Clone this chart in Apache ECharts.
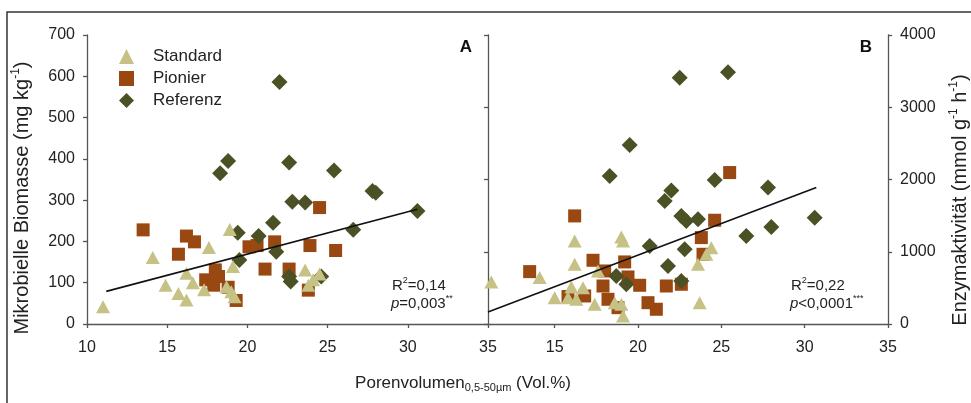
<!DOCTYPE html>
<html><head><meta charset="utf-8">
<script src="https://cdn.jsdelivr.net/npm/echarts@6/dist/echarts.min.js"></script>
<style>html,body{margin:0;padding:0;background:#fff}#c{width:971px;height:403px}</style>
</head><body><div id="c"></div>
<script>
// ---- data ----
const seriesNames = ['Standard', 'Pionier', 'Referenz'];
const xTicksRight = [15, 20, 25, 30, 35];

// Panel A: Mikrobielle Biomasse (mg kg-1)
const standardA = [[11.0,42],[14.1,161],[14.9,94],[15.7,74],[16.2,58],[16.2,123],[16.6,100],[17.3,83],[17.6,185],[18.7,90],[19.0,78],[19.2,66],[18.9,229],[19.1,139],[23.6,131],[23.8,94],[24.1,107],[24.5,121]];
const pionierA = [[13.5,228],[16.2,213],[16.7,199],[15.7,169],[24.5,282],[20.1,187],[20.6,190],[21.7,199],[23.9,190],[25.5,178],[21.1,133],[22.6,133],[18.0,131],[18.2,115],[17.4,107],[17.9,94],[18.8,89],[19.3,57],[23.8,82]];
const referenzA = [[22.0,586],[18.8,395],[18.3,365],[22.6,391],[25.4,372],[27.8,322],[28.0,318],[22.8,296],[23.6,294],[30.6,274],[26.6,228],[21.6,245],[19.4,221],[20.7,213],[21.8,175],[19.5,155],[22.6,115],[22.7,103],[24.6,115]];
const regressionA = [[11.2,79],[30.6,278]];

// Panel B: Enzymaktivität (mmol g-1 h-1)
const standardB = [[11.2,582],[14.1,642],[16.2,1150],[16.2,827],[19.0,1205],[19.1,1150],[17.6,734],[15.0,365],[16.0,512],[16.7,503],[15.8,365],[16.3,342],[17.4,272],[18.6,295],[19.0,272],[19.1,111],[23.7,295],[23.6,827],[24.1,965],[24.4,1057]];
const pionierB = [[25.5,2096],[16.2,1496],[24.6,1436],[23.8,1196],[23.9,965],[13.5,725],[17.3,882],[19.2,859],[18.0,734],[19.4,651],[20.1,536],[17.9,526],[21.7,526],[22.6,550],[18.2,342],[16.8,388],[15.8,380],[18.8,226],[20.6,295],[21.1,204]];
const referenzB = [[22.5,3407],[25.4,3486],[19.5,2479],[18.3,2050],[24.6,1994],[27.8,1890],[22.0,1848],[21.6,1704],[22.6,1496],[22.9,1427],[23.6,1450],[30.6,1472],[28.0,1343],[26.5,1219],[20.7,1080],[22.8,1034],[21.8,803],[18.7,665],[19.3,550],[22.6,595]];
const regressionB = [[11.0,165],[30.7,1890]];

// ---- style ----
const FF = '"Liberation Sans", Arial, sans-serif';
const cStd = '#c6c185', cPio = '#984810', cRef = '#4b5125';
const axisCol = '#555', txt = '#222';

const chart = echarts.init(document.getElementById('c'), null, {renderer: 'canvas'});

const plainNum = v => String(v);

function axisBase(extra) {
  return Object.assign({
    type: 'value',
    splitLine: {show: false},
    axisLine: {show: true, lineStyle: {color: axisCol, width: 1.3}},
    axisTick: {show: true, length: 4, lineStyle: {color: axisCol, width: 1.3}},
    axisLabel: {fontSize: 16, fontFamily: FF, color: txt, margin: 12, formatter: plainNum}
  }, extra);
}

function rich(size) {
  return {
    n: {fontSize: size, fontFamily: FF, fill: txt, color: txt, lineHeight: size + 4},
    i: {fontSize: size, fontFamily: FF, fontStyle: 'italic', fill: txt, color: txt, lineHeight: size + 4},
    s: {fontSize: Math.round(size * 0.62), fontFamily: FF, fill: txt, color: txt, verticalAlign: 'top', lineHeight: size + 4},
    b: {fontSize: Math.round(size * 0.62), fontFamily: FF, fill: txt, color: txt, verticalAlign: 'bottom', lineHeight: size + 4}
  };
}

function txtEl(x, y, text, size, extra) {
  return Object.assign({
    type: 'text', x: x, y: y, silent: true,
    style: Object.assign({text: text, rich: rich(size), fill: txt, font: size + 'px ' + FF, align: 'left', verticalAlign: 'middle'}, extra || {})
  });
}

const xLabelB = {fontSize: 16, fontFamily: FF, color: txt, margin: 16, formatter: plainNum};

const option = {
  animation: false,
  backgroundColor: '#fff',
  grid: [
    {left: 87, right: 483, top: 35, bottom: 79},
    {left: 488, right: 83, top: 35, bottom: 79}
  ],
  xAxis: [
    axisBase({gridIndex: 0, min: 10, max: 35, interval: 5, axisLabel: xLabelB}),
    axisBase({gridIndex: 1, min: 11, max: 35,
      axisLabel: Object.assign({customValues: xTicksRight}, xLabelB),
      axisTick: {show: true, length: 4, lineStyle: {color: axisCol, width: 1.3}, customValues: xTicksRight}})
  ],
  yAxis: [
    axisBase({gridIndex: 0, min: 0, max: 700, interval: 100}),
    axisBase({gridIndex: 0, position: 'right', min: 0, max: 4000, interval: 1000,
      axisLabel: {show: false}, axisTick: {show: true, inside: true, length: 4, lineStyle: {color: axisCol, width: 1.3}}}),
    axisBase({gridIndex: 1, position: 'right', min: 0, max: 4000, interval: 1000})
  ],
  legend: {
    orient: 'vertical', left: 114, top: 43,
    itemWidth: 15, itemHeight: 15, itemGap: 5,
    data: [
      {name: 'Standard', icon: 'triangle'},
      {name: 'Pionier', icon: 'rect'},
      {name: 'Referenz', icon: 'diamond'}
    ],
    textStyle: {fontSize: 17, fontFamily: FF, color: txt, padding: [0, 0, 0, 14], lineHeight: 16},
    selectedMode: false
  },
  series: [
    {name: 'Pionier', type: 'scatter', xAxisIndex: 0, yAxisIndex: 0, symbol: 'rect', symbolSize: 13, data: pionierA, itemStyle: {color: cPio, opacity: 1}},
    {name: 'Referenz', type: 'scatter', xAxisIndex: 0, yAxisIndex: 0, symbol: 'diamond', symbolSize: 16, data: referenzA, itemStyle: {color: cRef, opacity: 1}},
    {name: 'Standard', type: 'scatter', xAxisIndex: 0, yAxisIndex: 0, symbol: 'triangle', symbolSize: [14, 13], data: standardA, itemStyle: {color: cStd, opacity: 1}},
    {type: 'line', xAxisIndex: 0, yAxisIndex: 0, data: regressionA, symbol: 'none', silent: true, lineStyle: {color: '#111', width: 1.6}},
    {name: 'Pionier', type: 'scatter', xAxisIndex: 1, yAxisIndex: 2, symbol: 'rect', symbolSize: 13, data: pionierB, itemStyle: {color: cPio, opacity: 1}},
    {name: 'Referenz', type: 'scatter', xAxisIndex: 1, yAxisIndex: 2, symbol: 'diamond', symbolSize: 16, data: referenzB, itemStyle: {color: cRef, opacity: 1}},
    {name: 'Standard', type: 'scatter', xAxisIndex: 1, yAxisIndex: 2, symbol: 'triangle', symbolSize: [14, 13], data: standardB, itemStyle: {color: cStd, opacity: 1}},
    {type: 'line', xAxisIndex: 1, yAxisIndex: 2, data: regressionB, symbol: 'none', silent: true, lineStyle: {color: '#111', width: 1.6}}
  ],
  graphic: [
    {type: 'polyline', silent: true, shape: {points: [[7, 403], [7, 12], [971, 12]]}, style: {stroke: '#333', lineWidth: 1.5, fill: null}},
    {type: 'text', x: 466, y: 47, silent: true, style: {text: 'A', font: 'bold 17px ' + FF, fill: '#111', align: 'center', verticalAlign: 'middle'}},
    {type: 'text', x: 866, y: 47, silent: true, style: {text: 'B', font: 'bold 17px ' + FF, fill: '#111', align: 'center', verticalAlign: 'middle'}},
    txtEl(392, 286, '{n|R}{s|2}{n|=0,14}', 15),
    txtEl(391, 304, '{i|p}{n|=0,003}{s|**}', 15),
    txtEl(791, 286, '{n|R}{s|2}{n|=0,22}', 15),
    txtEl(790, 304, '{i|p}{n|<0,0001}{s|***}', 15),
    txtEl(463, 383, '{n|Porenvolumen}{b|0,5-50µm}{n| (Vol.%)}', 17, {align: 'center'}),
    Object.assign(txtEl(22, 198, '{n|Mikrobielle Biomasse (mg kg}{s|-1}{n|)}', 20, {align: 'center'}), {rotation: Math.PI / 2}),
    Object.assign(txtEl(960, 200, '{n|Enzymaktivität (mmol g}{s|-1}{n| h}{s|-1}{n|)}', 20, {align: 'center'}), {rotation: Math.PI / 2})
  ]
};
chart.setOption(option);
</script>
</body></html>
